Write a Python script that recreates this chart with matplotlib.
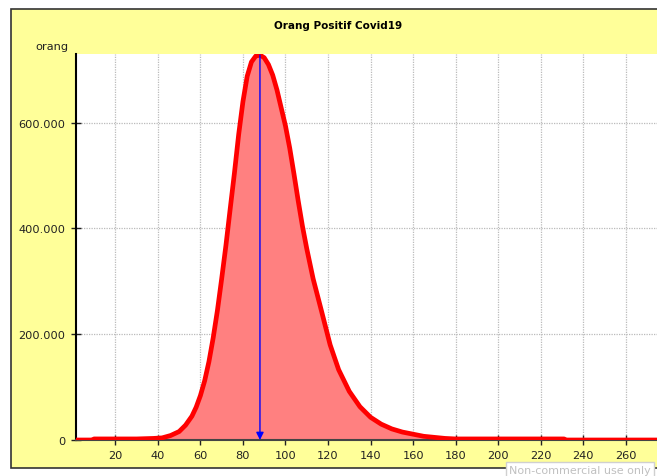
import matplotlib
matplotlib.use("Agg")
import matplotlib.pyplot as plt
from matplotlib.patches import Rectangle
from matplotlib.ticker import FuncFormatter

# hari ke- dan jumlah orang positif
days = [1, 9, 10, 20, 30, 38, 42, 46, 50, 53, 56, 58, 60, 62, 64, 66, 68, 70,
        72, 74, 76, 78, 80, 82, 84, 86, 88, 90, 92, 94, 96, 98, 100, 102, 104,
        106, 108, 110, 113, 117, 121, 125, 130, 135, 140, 145, 150, 155, 160,
        165, 170, 175, 180, 200, 231, 232, 275]
orang = [0, 0, 2000, 2000, 2000, 3000, 4000, 8500, 16000, 28000, 45000, 62000,
         84000, 112000, 148000, 193000, 245000, 305000, 368000, 437000, 505000,
         578000, 640000, 688000, 715000, 726000, 728000, 723000, 710000, 690000,
         662000, 628000, 594000, 552000, 503000, 452000, 404000, 362000, 305000,
         243000, 180000, 133000, 92000, 63000, 43000, 30000, 21000, 15000,
         11000, 7000, 5000, 3000, 2000, 2000, 2000, 0, 0]

title = "Orang Positif Covid19"
y_label = "orang"
x_ticks = [20, 40, 60, 80, 100, 120, 140, 160, 180, 200, 220, 240, 260]
y_ticks = [0, 200000, 400000, 600000]

W, H = 657, 477
fig = plt.figure(figsize=(W / 100, H / 100), dpi=100)

# yellow panel behind everything
bg = fig.add_axes([0, 0, 1, 1])
bg.set_axis_off()
bg.set_xlim(0, W)
bg.set_ylim(H, 0)
bg.add_patch(Rectangle((11, 10), W, 459, facecolor="#FFFF99",
                       edgecolor="#333333", linewidth=1.2))

ax = fig.add_axes([76 / W, (H - 441) / H, (W - 76) / W, (441 - 55) / H])
ax.set_zorder(2)
ax.set_facecolor("white")

ax.fill_between(days, orang, color="#FF8080", linewidth=0, zorder=2)
ax.plot(days, orang, color="#FF0000", linewidth=3.4, solid_joinstyle="round",
        solid_capstyle="round", zorder=3)

# arrow from the peak down to the axis
peak = max(orang)
peak_day = days[orang.index(peak)]
ax.annotate("", xy=(peak_day, 0), xytext=(peak_day, peak),
            arrowprops=dict(arrowstyle="-|>", color="#0000FF", lw=1,
                            mutation_scale=11, shrinkA=0, shrinkB=0),
            zorder=4)

ax.set_xlim(1.5, 274.7)
ax.set_ylim(0, 730000)
ax.set_xticks(x_ticks)
ax.set_yticks(y_ticks)
ax.yaxis.set_major_formatter(FuncFormatter(lambda v, p: f"{int(v):,}".replace(",", ".")))
ax.tick_params(direction="inout", length=7, width=1, labelsize=8.2,
               colors="#222222", pad=4)
ax.grid(True, color="#BBBBBB", linestyle=(0, (1, 1)), linewidth=0.9, zorder=1)
ax.set_axisbelow(True)

for s in ["top", "right"]:
    ax.spines[s].set_visible(False)
ax.spines["left"].set_color("black")
ax.spines["left"].set_linewidth(1.5)
ax.spines["bottom"].set_color("#444444")
ax.spines["bottom"].set_linewidth(1.5)

fig.text(338 / W, 1 - 26 / H, title, ha="center", va="center",
         fontsize=7.5, fontweight="bold")
fig.text(68 / W, 1 - 47 / H, y_label, ha="right", va="center", fontsize=8.2,
         color="#222222")

fig.text(509 / W, 1 - 471 / H, "Non-commercial use only", ha="left",
         va="center", fontsize=8, color="#C0C0C0", zorder=10,
         bbox=dict(boxstyle="square,pad=0.25", facecolor="white",
                   edgecolor="#D0D0D0", linewidth=1))

fig.savefig("out.png", dpi=100)
